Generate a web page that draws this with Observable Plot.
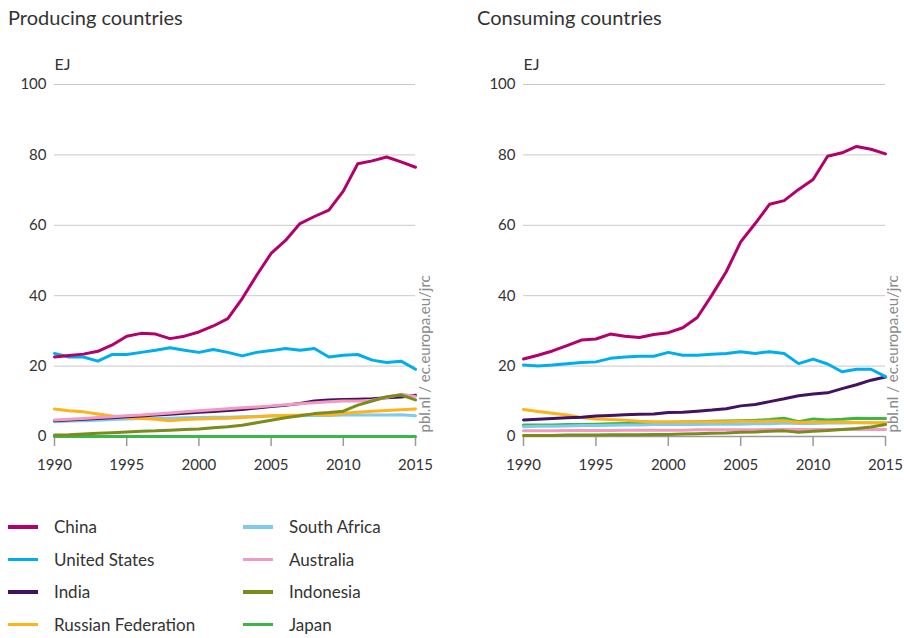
<!DOCTYPE html>
<html>
<head>
<meta charset="utf-8">
<script src="https://cdn.jsdelivr.net/npm/d3@7"></script>
<script src="https://cdn.jsdelivr.net/npm/@observablehq/plot@0.6"></script>
<style>
  body { margin:0; width:904px; height:638px; position:relative; background:#fff; font-family: Lato, "Noto Sans", sans-serif; color:#333; overflow:hidden; }
  .title { position:absolute; top:5px; font-size:20px; color:#333; white-space:nowrap; }
  .chart { position:absolute; top:40px; }
  .chart svg { font-variant-numeric: oldstyle-nums; }
  .legend { position:absolute; left:0; top:512px; width:904px; }
  .item { position:absolute; font-size:17px; white-space:nowrap; height:20px; line-height:20px; }
  .sw { position:absolute; top:8px; width:30px; height:3.5px; }
  .lab { position:absolute; }
</style>
</head>
<body>
<div class="title" style="left:8px">Producing countries</div>
<div class="title" style="left:477px">Consuming countries</div>
<div class="chart" id="c1" style="left:0px"></div>
<div class="chart" id="c2" style="left:469px"></div>
<div class="legend" id="legend"></div>
<script>
const years = d3.range(1990, 2016);
const countries = ["China", "United States", "India", "Russian Federation", "South Africa", "Australia", "Indonesia", "Japan"];
const colors = ["#b3006b", "#00aeef", "#42145f", "#ffb21a", "#7dcbf0", "#f29ac2", "#7a8c1c", "#3db54b"];
const drawOrder = ["Japan", "South Africa", "Russian Federation", "India", "Australia", "Indonesia", "United States", "China"];
const xTicks = [1990, 1995, 2000, 2005, 2010, 2015];
const yTicks = [0, 20, 40, 60, 80, 100];
const yLabel = "EJ";
const source = "pbl.nl / ec.europa.eu/jrc";

// Producing countries (EJ)
const prodChina = [22.6, 23.0, 23.4, 24.2, 26.0, 28.5, 29.3, 29.1, 27.8, 28.5, 29.7, 31.4, 33.5, 39.2, 45.8, 52.0, 55.7, 60.5, 62.5, 64.3, 69.7, 77.5, 78.3, 79.4, 78.0, 76.5];
const prodUS = [23.6, 22.6, 22.6, 21.4, 23.3, 23.3, 23.9, 24.5, 25.2, 24.5, 23.9, 24.7, 23.9, 22.9, 23.9, 24.4, 25.0, 24.5, 25.0, 22.6, 23.1, 23.3, 21.7, 21.0, 21.4, 19.1];
const prodIndia = [4.5, 4.7, 4.9, 5.1, 5.3, 5.6, 5.8, 6.1, 6.3, 6.6, 6.9, 7.1, 7.4, 7.7, 8.1, 8.5, 8.9, 9.4, 10.1, 10.4, 10.5, 10.6, 10.7, 11.0, 11.2, 11.7];
const prodRussia = [7.8, 7.3, 7.0, 6.4, 5.8, 5.3, 5.1, 4.9, 4.5, 4.8, 5.0, 5.1, 5.2, 5.4, 5.6, 5.9, 6.0, 6.1, 6.3, 6.2, 6.6, 6.9, 7.2, 7.4, 7.6, 7.8];
const prodSouthAfrica = [4.2, 4.4, 4.5, 4.6, 4.8, 5.0, 5.1, 5.2, 5.2, 5.3, 5.4, 5.5, 5.5, 5.6, 5.7, 5.8, 5.8, 5.9, 6.0, 6.0, 6.1, 6.1, 6.1, 6.1, 6.2, 5.9];
const prodAustralia = [4.7, 4.9, 5.1, 5.4, 5.6, 5.9, 6.1, 6.4, 6.7, 7.0, 7.3, 7.6, 7.9, 8.2, 8.4, 8.7, 9.0, 9.3, 9.6, 9.9, 10.1, 10.1, 10.3, 11.1, 12.0, 11.4];
const prodIndonesia = [0.4, 0.5, 0.7, 0.9, 1.1, 1.3, 1.5, 1.6, 1.8, 2.0, 2.1, 2.5, 2.8, 3.2, 3.9, 4.6, 5.3, 5.9, 6.5, 6.8, 7.2, 8.9, 10.1, 11.3, 11.8, 10.4];
const prodJapan = [0, 0, 0, 0, 0, 0, 0, 0, 0, 0, 0, 0, 0, 0, 0, 0, 0, 0, 0, 0, 0, 0, 0, 0, 0, 0];

// Consuming countries (EJ)
const consChina = [22.0, 23.1, 24.3, 25.8, 27.4, 27.7, 29.1, 28.5, 28.1, 29.0, 29.5, 30.9, 33.8, 40.1, 46.8, 55.3, 60.5, 66.0, 67.0, 70.2, 73.0, 79.6, 80.6, 82.4, 81.6, 80.3];
const consUS = [20.3, 20.0, 20.3, 20.7, 21.0, 21.2, 22.2, 22.6, 22.8, 22.8, 23.9, 23.1, 23.1, 23.4, 23.6, 24.1, 23.6, 24.1, 23.6, 20.7, 22.0, 20.6, 18.4, 19.1, 19.1, 17.0];
const consIndia = [4.7, 4.9, 5.1, 5.3, 5.5, 5.8, 6.0, 6.2, 6.3, 6.4, 6.8, 6.9, 7.2, 7.5, 7.9, 8.7, 9.1, 9.9, 10.7, 11.6, 12.1, 12.4, 13.6, 14.7, 16.0, 16.9];
const consRussia = [7.7, 7.1, 6.6, 6.1, 5.4, 5.0, 4.8, 4.6, 4.3, 4.2, 4.2, 4.2, 4.2, 4.2, 4.2, 4.3, 4.3, 4.4, 4.5, 4.0, 4.1, 4.1, 4.1, 4.0, 3.9, 3.9];
const consSouthAfrica = [2.8, 2.9, 2.9, 3.0, 3.1, 3.1, 3.2, 3.3, 3.3, 3.4, 3.5, 3.4, 3.4, 3.5, 3.5, 3.5, 3.6, 3.6, 3.8, 3.7, 3.7, 3.8, 3.8, 3.9, 3.9, 3.9];
const consAustralia = [1.6, 1.6, 1.6, 1.7, 1.7, 1.7, 1.7, 1.8, 1.8, 1.8, 1.8, 1.8, 1.9, 1.9, 1.9, 1.9, 1.9, 2.0, 2.0, 2.0, 2.0, 2.0, 2.0, 2.0, 2.0, 2.0];
const consIndonesia = [0.3, 0.3, 0.3, 0.4, 0.4, 0.4, 0.5, 0.5, 0.5, 0.6, 0.6, 0.7, 0.8, 0.9, 1.0, 1.2, 1.3, 1.5, 1.6, 1.2, 1.5, 1.7, 2.0, 2.3, 2.7, 3.4];
const consJapan = [3.3, 3.3, 3.3, 3.4, 3.4, 3.5, 3.6, 3.7, 3.7, 3.8, 4.0, 4.1, 4.2, 4.3, 4.4, 4.5, 4.6, 4.8, 5.2, 4.2, 5.0, 4.7, 4.9, 5.2, 5.1, 5.1];

const prodSeries = {"China": prodChina, "United States": prodUS, "India": prodIndia, "Russian Federation": prodRussia, "South Africa": prodSouthAfrica, "Australia": prodAustralia, "Indonesia": prodIndonesia, "Japan": prodJapan};
const consSeries = {"China": consChina, "United States": consUS, "India": consIndia, "Russian Federation": consRussia, "South Africa": consSouthAfrica, "Australia": consAustralia, "Indonesia": consIndonesia, "Japan": consJapan};

function toRows(series) {
  const rows = [];
  for (const c of drawOrder) series[c].forEach((v, i) => rows.push({country: c, year: years[i], value: v}));
  return rows;
}

function chart(series, width, marginRight, srcDx) {
  return Plot.plot({
    width, height: 430,
    marginTop: 44, marginBottom: 34, marginLeft: 54, marginRight,
    x: {domain: [1990, 2015]},
    y: {domain: [0, 100]},
    color: {domain: countries, range: colors},
    style: {fontFamily: "Lato, 'Noto Sans', sans-serif", fontSize: "15px", color: "#333", background: "transparent", overflow: "visible"},
    marks: [
      Plot.gridY(yTicks.filter(d => d > 0), {stroke: "#c9c9c9", strokeOpacity: 1, strokeWidth: 1}),
      Plot.axisY(yTicks, {tickSize: 0, tickPadding: 8, label: null, fill: "#333"}),
      Plot.ruleY([0], {stroke: "#9a9a9a", strokeWidth: 1.5}),
      Plot.axisX(xTicks, {tickSize: 10, tickPadding: 13, label: null, stroke: "#9a9a9a", strokeWidth: 1.5, fill: "#333", tickFormat: d => String(d)}),
      Plot.line(toRows(series), {x: "year", y: "value", z: "country", stroke: "country", strokeWidth: 3, strokeLinejoin: "round"}),
      Plot.text([yLabel], {frameAnchor: "top-left", dy: -26, textAnchor: "start", fill: "#333", fontSize: 16}),
      Plot.text([source], {frameAnchor: "bottom-right", rotate: -90, dx: srcDx, dy: -4, textAnchor: "start", fill: "#8a8a8a", fontSize: 15})
    ]
  });
}

document.getElementById("c1").appendChild(chart(prodSeries, 452, 37, 14));
document.getElementById("c2").appendChild(chart(consSeries, 435, 19, 12));

// legend
const legend = document.getElementById("legend");
countries.forEach((c, i) => {
  const col = Math.floor(i / 4), row = i % 4;
  const it = document.createElement("div");
  it.className = "item";
  it.style.left = (col === 0 ? 8 : 243) + "px";
  it.style.top = (row * 32.5 + 5) + "px";
  it.innerHTML = `<span class="sw" style="left:0;background:${colors[i]}"></span><span class="lab" style="left:46px">${c}</span>`;
  legend.appendChild(it);
});
</script>
</body>
</html>
